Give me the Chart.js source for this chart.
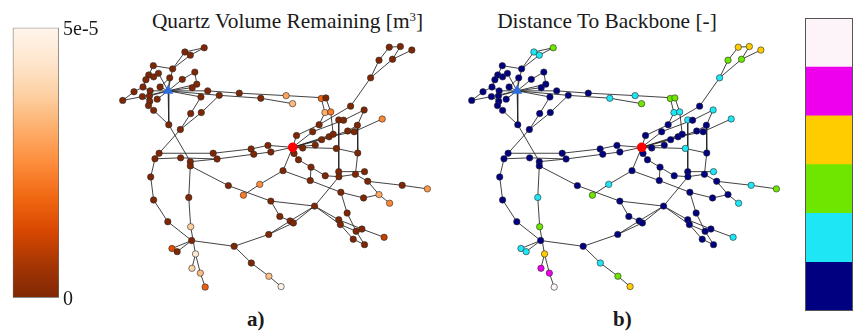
<!DOCTYPE html>
<html>
<head>
<meta charset="utf-8">
<script src="https://cdn.jsdelivr.net/npm/chart.js@4/dist/chart.umd.min.js"></script>
<style>
  html, body { margin: 0; padding: 0; background: #fff; }
  #page { position: relative; width: 858px; height: 334px; overflow: hidden; font-family: "Liberation Serif", serif; color: #1a1a1a; }
  canvas { position: absolute; }
  .title { position: absolute; top: 11px; font-size: 21.4px; line-height: 1; white-space: nowrap; transform: translateX(-50%); }
  .tag { position: absolute; top: 309px; font-size: 21px; line-height: 1; font-weight: bold; }
</style>
</head>
<body>
<div id="page">
  <div class="title" style="left:287.5px">Quartz Volume Remaining [m<sup style="font-size:0.6em;vertical-align:0.55em;line-height:0">3</sup>]</div>
  <div class="title" style="left:607px">Distance To Backbone [-]</div>
  <div class="tag" style="left:247px">a)</div>
  <div class="tag" style="left:613px">b)</div>
  <canvas id="volumeBar" width="110" height="334" style="left:0;top:0"></canvas>
  <canvas id="volumeNet" width="350" height="280" style="left:100px;top:30px"></canvas>
  <canvas id="distanceNet" width="350" height="280" style="left:449px;top:30px"></canvas>
  <canvas id="distanceBar" width="78" height="334" style="left:780px;top:0"></canvas>
</div>
<script>
// ---- network layout (node positions in layout units) ----
const nodeIds = [
  'T','a1','a2','a3','a4','a5','a6','a7','a8','a9',
  'a10','a11','a12','a13','a14','a15','a16','a17','a18','a19',
  'a20','a21','a22','a23','a24','a25','a26','a27','a28','a29',
  'a30','a31','a32','a33','a34','a35','a36','a37','a38','a39',
  'a40','b1','b2','b3','b4','b5','b6','b7','b8','b9',
  'b10','b11','R','c1','c2','c3','c4','c5','c6','c7',
  'c8','c9','c10','c11','c12','c13','c14','c15','c16','c17',
  'c18','c19','c20','c21','c22','c23','c24','c25','c26','c27',
  'c28','c29','c30','c31','c32','c33','c34','c35','c36','c37',
  'c38','c39','c40','c41','c42','c43','c44','c45','c46','c47',
  'c48','c49','c50','c51','c52','c53','c54','c55','c56','c57',
  'c58','c59','c60','c61','c62','d1','d2','d3','d4','d5',
  'd6','d7','d8','d9','d10','d11','d12'
];
const nodeX = [
  164.3,201.7,181.7,187.3,169,149,192,144.3,154.3,149.3,
  141.3,166,179,194,189.3,138.3,156,129,145.7,205.3,
  137.7,145,153,145.3,117.3,144,149.3,198.3,217.3,238,
  260.3,286.5,293.2,323,327.7,326.7,332.7,187.7,198.7,165,
  177,267.7,250.3,211,215,155,150.7,177.3,187.3,187.3,
  253,270.7,293.3,297.3,314,320.7,316.7,303.7,323.3,331,
  335.3,338.5,341,346,360.3,350.3,357,353.3,367.3,386,
  374,382.7,396.7,393.3,404.8,416.7,294.7,299.3,360.7,283.3,
  312.3,311.5,327,341,341.2,358.3,367.7,371,406.7,432.8,
  343.2,366.7,382.7,393.7,259.2,242.3,226.7,270.7,316,280,
  290.7,294,268.5,349.7,341,342.7,365,359,388,356,
  367.7,232.7,250.5,268.7,281.3,146.3,149.3,164,185.7,187.7,
  188.7,168.3,173.7,192.7,189,197.7,202.7
];
const nodeY = [
  87.3,42.3,46.7,50,64.3,61,67.7,70.7,69,72.7,
  75.7,73.7,75.3,80.3,84,83.3,83.3,88.3,87.3,87.3,
  93.3,92.7,96,98.3,97.3,102.7,107.7,93.7,92,89.7,
  95,92.3,100.7,95.3,94.7,110,109.3,111,110,122.7,
  127.7,144.3,148,152.5,158.5,152.5,158.3,157.3,161.3,165.7,
  153.5,151.2,146.3,134,130,122.7,144,147,138.3,135.3,
  132.7,147.5,117.7,118,123.3,129.3,130,103.3,107.3,116.7,
  73.7,55.3,54.3,41.7,41,44.7,152.7,159.3,152.3,170.7,
  167,181,176,171.7,177,174.5,171.7,181.8,186,189.7,
  193.3,199.2,195.7,204.7,185,196.3,186.3,202.5,207.7,218.5,
  223.2,225.3,237.3,215,222,227,231.7,234,240.3,242.3,
  248,249.7,267.2,281,291.8,177.3,201.3,224,198.7,229.3,
  243.7,252,255.3,257.7,272.7,277.7,292.3
];
// quartz volume remaining at each node [m^3]
const quartzVolume = [
  0,0,0,0,0,0,0,0,0,0,
  0,0,0,0,0,0,0,0,0,0,
  0,0,0,0,0,0,0,0,0,0,
  0,2.9e-5,3.35e-5,1.8e-5,0,3.15e-5,2.2e-5,0,0,0,
  0,0,0,0,0,0,0,0,0,0,
  0,0,0,0,0,0,0,0,0,0,
  0,0,0,0,0,0,0,0,0,2.4e-5,
  0,0,0,0,0,0,0,0,0,0,
  0,0,0,0,0,0,0,0,0,2.7e-5,
  0,0,3.0e-5,2.4e-5,2.5e-5,2.2e-5,0,0,0,0,
  0,0,0,0,0,0,0,0,1.0e-5,0,
  0,0,0,3.45e-5,4.8e-5,0,0,0,0,3.75e-5,
  0,1.35e-5,0,4.45e-5,3.85e-5,3.35e-5,1.7e-5
];
// graph distance of each node to the backbone [-]
const backboneDistance = [
  0,2,1,1,0,0,0,0,0,0,
  0,0,0,0,0,0,0,0,0,0,
  0,0,0,0,0,0,0,0,0,0,
  1,1,2,2,2,1,1,0,0,0,
  0,0,0,0,0,0,0,0,0,0,
  0,0,0,0,0,0,0,0,0,0,
  0,1,1,0,0,0,0,0,1,1,
  1,2,2,3,3,3,0,0,0,0,
  0,0,0,0,0,0,1,0,1,2,
  0,0,0,1,1,2,0,0,0,0,
  0,0,0,0,0,0,0,0,1,0,
  0,0,1,2,3,0,0,0,1,2,
  0,1,1,3,4,4,5
];
const sourceNode = 'T';   // injection point (triangle)
const backboneHub = 'R';  // central backbone node (red)
const edges = [
  ['T','a4'],['T','a8'],['T','a11'],['T','a12'],['T','a13'],['T','a14'],['T','a16'],['T','a18'],
  ['T','a20'],['T','a21'],['T','a22'],['T','a19'],['T','a27'],['T','a28'],['T','a39'],
  ['a4','a2'],['a4','a3'],['a2','a1'],['a3','a1'],['a4','a5'],['a5','a7'],['a7','a9'],['a9','a8'],
  ['a7','a10'],['a6','a12'],['a6','a13'],['a13','a14'],['a10','a15'],['a15','a17'],['a17','a24'],
  ['a24','a20'],['a20','a23'],['a21','a23'],['a23','a25'],['a25','a26'],['a26','a39'],['a15','a18'],
  ['a11','a16'],['a19','a29'],['a29','a31'],['a31','a34'],['a33','a34'],['a28','a30'],['a30','a32'],
  ['a27','a37'],['a37','a40'],['a28','a38'],['a38','a40'],['a39','b8'],['a40','b5'],
  ['a33','a35'],['a34','a36'],['a35','c3'],['a36','c8'],
  ['b5','b3'],['b3','b2'],['b2','b1'],['b1','R'],['b6','b7'],['b7','b4'],['b4','b10'],['b10','b11'],
  ['b11','R'],['b5','b6'],['b6','d1'],['b8','b9'],['b9','d4'],['b9','c44'],['b8','b4'],
  ['R','c1'],['c1','c3'],['c3','c15'],['c15','c18'],['R','c2'],['c2','c11'],['c11','c16'],['c10','c11'],
  ['R','c6'],['c6','c13'],['c13','c12'],['c12','c16'],['R','c7'],['c7','c14'],['c14','c17'],['R','c8'],
  ['R','c4'],['R','c5'],['R','c9'],['c9','c26'],['c12','c26'],['c26','c33'],['c10','c31'],
  ['c18','c19'],['c18','c20'],['c19','c21'],['c20','c22'],['c20','c23'],['c21','c22'],
  ['R','c24'],['c24','c25'],['c25','c28'],['c28','c29'],['c28','c30'],['c30','c32'],['c32','c33'],
  ['c31','c34'],['c33','c35'],['c35','c36'],['c36','c37'],['c29','c38'],['c38','c39'],['c39','c40'],
  ['c40','c41'],['c40','c35'],['R','c27'],['c27','c42'],['c42','c43'],['c27','c29'],
  ['c32','c46'],['c38','c51'],['c51','c55'],['c55','c58'],['c46','c52'],['c52','c54'],['c54','c56'],
  ['c46','c53'],['c53','c57'],['c57','c58'],['c53','c55'],
  ['c44','c45'],['c45','c46'],['c45','c47'],['c47','c48'],['c48','c46'],['c50','c49'],['c49','c46'],
  ['c50','c48'],['c50','c59'],['c59','c60'],['c60','c61'],['c61','c62'],['c59','d6'],
  ['d1','d2'],['d2','d3'],['d3','d6'],['d4','d5'],['d5','d9'],['d6','d7'],['d6','d8'],
  ['d9','d10'],['d9','d11'],['d11','d12']
];

// ---- colour scales ----
const VOL_MAX = 5e-5;
const volumeTicks = [0, 5e-5];
const volumeTickLabels = ['0', '5e-5'];
const orangesStops = ['#fff5eb','#fee6ce','#fdd0a2','#fdae6b','#fd8d3c','#f16913','#d94801','#a63603','#7f2704'];
const distanceLevels = [0, 1, 2, 3, 4, 5];
const distanceColors = ['#000080','#1ee6f5','#6ee600','#ffcc00','#ee00ee','#fdf4f9'];

function hexRgb(h) { return [1,3,5].map(i => parseInt(h.slice(i, i + 2), 16)); }
function volumeColor(v) {
  // reversed Oranges map: empty -> dark brown, full -> pale
  const t = 1 - Math.min(1, Math.max(0, v / VOL_MAX));
  const p = t * (orangesStops.length - 1);
  const i = Math.min(Math.floor(p), orangesStops.length - 2);
  const f = p - i;
  const a = hexRgb(orangesStops[i]), b = hexRgb(orangesStops[i + 1]);
  const c = a.map((ch, k) => Math.round(ch + (b[k] - ch) * f));
  return `rgb(${c[0]},${c[1]},${c[2]})`;
}

const indexOf = Object.fromEntries(nodeIds.map((id, i) => [id, i]));
const pos = id => ({ x: nodeX[indexOf[id]], y: nodeY[indexOf[id]] });
const edgeData = edges.flatMap(([a, b]) => [pos(a), pos(b), { x: pos(b).x, y: null }]);
const plainNodes = nodeIds.map((id, i) => i).filter(i => nodeIds[i] !== sourceNode && nodeIds[i] !== backboneHub);

const baseOptions = {
  animation: false, responsive: false, events: [],
  layout: { padding: 0 },
  plugins: { legend: { display: false }, tooltip: { enabled: false }, title: { display: false } }
};

function networkChart(canvasId, colorFor) {
  new Chart(document.getElementById(canvasId), {
    type: 'scatter',
    data: {
      datasets: [
        { type: 'line', data: edgeData, borderColor: 'rgba(35,35,35,0.9)', borderWidth: 0.95,
          pointRadius: 0, spanGaps: false, tension: 0, clip: false, order: 3 },
        { data: plainNodes.map(i => ({ x: nodeX[i], y: nodeY[i] })),
          pointRadius: 3.2, pointBorderWidth: 0.6, pointBorderColor: '#2a2a2a',
          pointBackgroundColor: plainNodes.map(colorFor), clip: false, order: 2 },
        { data: [pos(backboneHub)], pointRadius: 4.8, pointBorderWidth: 0,
          pointBackgroundColor: '#ff0000', clip: false, order: 1 },
        { data: [pos(sourceNode)], pointStyle: 'triangle', pointRadius: 6, pointBorderWidth: 0,
          pointBackgroundColor: '#2a6ee0', clip: false, order: 0 }
      ]
    },
    options: Object.assign({}, baseOptions, {
      scales: {
        x: { type: 'linear', display: false, min: 100, max: 450 },
        y: { type: 'linear', display: false, min: 30, max: 310, reverse: true }
      }
    })
  });
}

networkChart('volumeNet', i => volumeColor(quartzVolume[i]));
networkChart('distanceNet', i => distanceColors[backboneDistance[i]]);

// ---- continuous colour bar for the volume ----
new Chart(document.getElementById('volumeBar'), {
  type: 'bar',
  data: {
    labels: [''],
    datasets: [{
      data: [VOL_MAX],
      backgroundColor: ctx => {
        const chart = ctx.chart, area = chart.chartArea;
        if (!area) return orangesStops[4];
        const y = chart.scales.y;
        const g = chart.ctx.createLinearGradient(0, y.getPixelForValue(0), 0, y.getPixelForValue(VOL_MAX));
        orangesStops.forEach((c, k) => g.addColorStop(1 - k / (orangesStops.length - 1), c));
        return g;
      },
      borderColor: '#666', borderWidth: 1, borderSkipped: false,
      barPercentage: 1, categoryPercentage: 1
    }]
  },
  options: Object.assign({}, baseOptions, {
    layout: { padding: { left: 12.7, top: 27.7, bottom: 36.3, right: 0 } },
    scales: {
      x: { display: false },
      y: {
        position: 'right', min: 0, max: VOL_MAX,
        grid: { display: false, drawTicks: false }, border: { display: false },
        afterBuildTicks: axis => { axis.ticks = volumeTicks.map(v => ({ value: v })); },
        afterFit: axis => { axis.width = 51; },
        ticks: {
          padding: 4, color: '#1a1a1a', labelOffset: 2,
          font: { family: '"Liberation Serif", serif', size: 20 },
          callback: v => volumeTickLabels[volumeTicks.indexOf(v)]
        }
      }
    }
  })
});

// ---- discrete colour bar for the distance ----
const framePlugin = {
  id: 'frame',
  afterDatasetsDraw(chart) {
    const { ctx, chartArea: a } = chart;
    ctx.save();
    ctx.strokeStyle = '#555';
    ctx.lineWidth = 1;
    ctx.strokeRect(Math.round(a.left) + 0.5, Math.round(a.top) + 0.5, Math.round(a.right - a.left) - 1, Math.round(a.bottom - a.top) - 1);
    ctx.restore();
  }
};
new Chart(document.getElementById('distanceBar'), {
  type: 'bar',
  data: {
    labels: [''],
    datasets: distanceLevels.map(d => ({
      data: [1], backgroundColor: distanceColors[d], borderWidth: 0,
      barPercentage: 1, categoryPercentage: 1
    }))
  },
  options: Object.assign({}, baseOptions, {
    layout: { padding: { left: 25, right: 5.3, top: 18.3, bottom: 23 } },
    scales: {
      x: { display: false, stacked: true },
      y: { display: false, stacked: true, min: 0, max: distanceLevels.length }
    }
  }),
  plugins: [framePlugin]
});
</script>
</body>
</html>
